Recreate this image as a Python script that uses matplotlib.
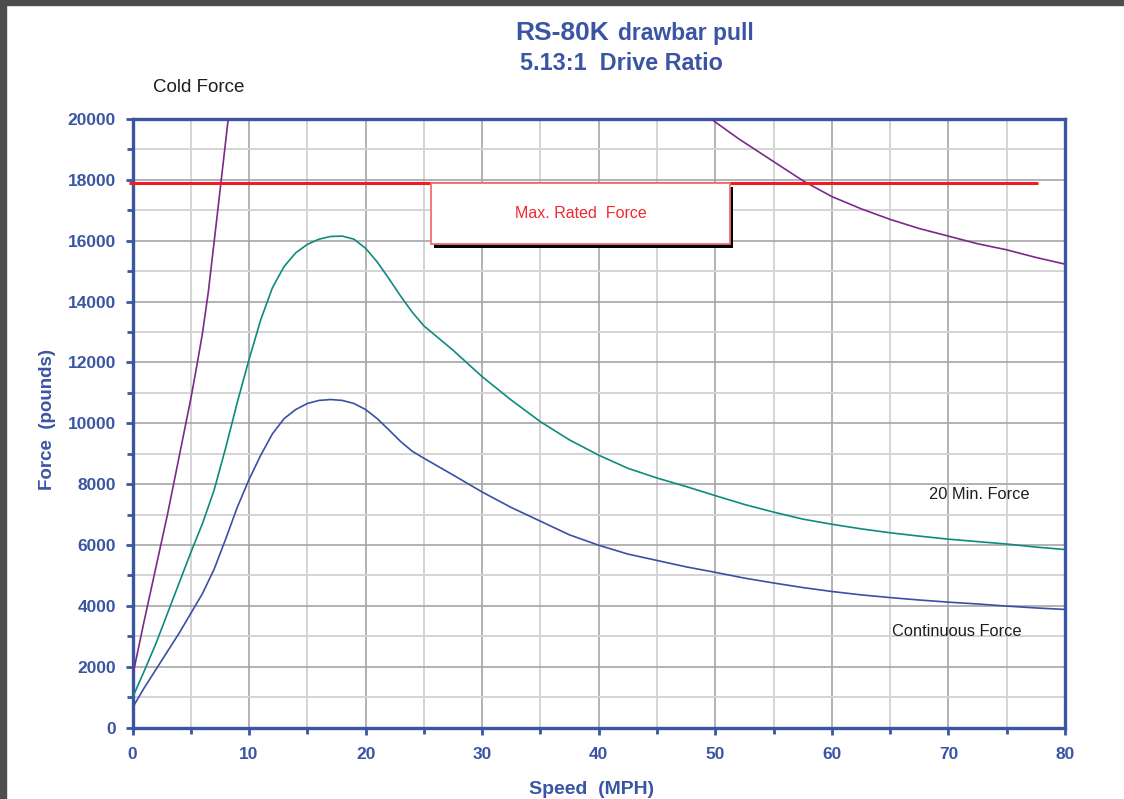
import numpy as np
import matplotlib
matplotlib.use("Agg")
import matplotlib.pyplot as plt
from matplotlib.patches import Rectangle

plt.rcParams['font.family'] = ['Liberation Sans', 'DejaVu Sans']

# cold force (purple) - two branches
cold_speed_lo = [0, 1, 2, 3, 4, 5, 5.5, 6, 6.5, 7, 7.6, 8.3]
cold_force_lo = [1680, 3500, 5250, 7000, 8900, 10800, 11850, 12950, 14300, 15950, 17950, 20300]
cold_speed_hi = [49.0, 50, 52, 55, 57.6, 60, 62.5, 65, 67.5, 70, 72.5, 75, 77.5, 80]
cold_force_hi = [20200, 19900, 19350, 18600, 17950, 17450, 17050, 16700, 16400,
                 16150, 15900, 15700, 15450, 15230]

speed = [0, 1, 2, 3, 4, 5, 6, 7, 8, 9, 10, 11, 12, 13, 14, 15, 16, 17, 18, 19,
         20, 21, 22, 23, 24, 25, 27.5, 30, 32.5, 35, 37.5, 40, 42.5, 45, 47.5,
         50, 52.5, 55, 57.5, 60, 62.5, 65, 67.5, 70, 72.5, 75, 77.5, 80]
force_20min = [980, 1850, 2750, 3750, 4750, 5750, 6700, 7800, 9200, 10700,
               12100, 13400, 14450, 15150, 15600, 15880, 16050, 16140, 16150, 16050,
               15750, 15300, 14750, 14180, 13650, 13200, 12400, 11530, 10760, 10050,
               9450, 8950, 8520, 8200, 7920, 7620, 7330, 7080, 6850, 6680,
               6530, 6400, 6290, 6190, 6110, 6030, 5930, 5850]
force_cont = [650, 1300, 1900, 2500, 3100, 3750, 4400, 5200, 6200, 7250,
              8150, 8950, 9650, 10150, 10450, 10650, 10750, 10780, 10750, 10650,
              10450, 10150, 9780, 9400, 9080, 8850, 8300, 7740, 7230, 6780,
              6330, 5990, 5700, 5490, 5280, 5100, 4910, 4750, 4600, 4470,
              4360, 4270, 4190, 4120, 4060, 3990, 3930, 3880]

max_rated = 17900
max_rated_end = 77.7

BLUE = '#3b55a5'
W, H = 1124, 799

fig = plt.figure(figsize=(W / 100, H / 100), dpi=100)
ax = fig.add_axes([132.5 / W, 1 - 727.5 / H, (1065 - 132.5) / W, (727.5 - 119) / H])

# dark frame strips (left and top)
fig.patches.append(Rectangle((0, 0), 6 / W, 1, transform=fig.transFigure,
                             color='#4d4d4d', zorder=0))
fig.patches.append(Rectangle((0, 1 - 5 / H), 1, 5 / H, transform=fig.transFigure,
                             color='#4d4d4d', zorder=0))

ax.set_xlim(0, 80)
ax.set_ylim(0, 20000)
ax.set_xticks(range(0, 81, 10))
ax.set_xticks(range(5, 80, 10), minor=True)
ax.set_yticks(range(0, 20001, 2000))
ax.set_yticks(range(1000, 20000, 2000), minor=True)

ax.grid(which='major', color='#a6a6a6', lw=1.2, zorder=0)
ax.grid(which='minor', color='#d4d4d4', lw=1.4, zorder=0)
ax.set_axisbelow(True)

for s in ax.spines.values():
    s.set_color(BLUE)
    s.set_linewidth(2.4)

ax.tick_params(which='both', direction='out', color=BLUE, width=2, top=False, right=False)
ax.tick_params(which='major', length=5)
ax.tick_params(which='minor', length=4)
ax.tick_params(axis='y', which='major', pad=7)
ax.tick_params(axis='x', which='major', pad=9)
for lab in ax.get_xticklabels() + ax.get_yticklabels():
    lab.set_color(BLUE)
    lab.set_fontweight('bold')
    lab.set_fontsize(12.5)

ax.plot(cold_speed_lo, cold_force_lo, color='#7a2a88', lw=1.2, zorder=3)
ax.plot(cold_speed_hi, cold_force_hi, color='#7a2a88', lw=1.2, zorder=3)
ax.plot(speed, force_20min, color='#0e8a80', lw=1.2, zorder=3)
ax.plot(speed, force_cont, color='#3a4fa5', lw=1.2, zorder=3)

ax.plot([-0.3, max_rated_end], [max_rated, max_rated], color='#ee1c25', lw=2.2,
        zorder=4, clip_on=False, solid_capstyle='butt')

# label box with shadow
bx0, bx1, by0, by1 = 25.6, 51.25, 15900, max_rated
ax.add_patch(Rectangle((bx0 + 0.3, by0 - 130), bx1 - bx0, by1 - by0,
                       facecolor='black', edgecolor='none', zorder=5))
ax.add_patch(Rectangle((bx0, by0), bx1 - bx0, by1 - by0,
                       facecolor='white', edgecolor='#f07070', lw=1.3, zorder=6))
ax.text((bx0 + bx1) / 2, (by0 + by1) / 2 - 20, 'Max. Rated  Force', color='#ee2a30',
        fontsize=11.5, ha='center', va='center', zorder=7)

fig.text(153 / W, 1 - 87 / H, 'Cold Force', fontsize=13.5, color='#1e1e1e',
         ha='left', va='center')
ax.text(929 / W, 1 - 494 / H, '20 Min. Force', fontsize=11.8, color='#1e1e1e',
        ha='left', va='center', transform=fig.transFigure)
ax.text(892 / W, 1 - 631 / H, 'Continuous Force', fontsize=11.8, color='#1e1e1e',
        ha='left', va='center', transform=fig.transFigure)

fig.text(515 / W, 1 - 40 / H, 'RS-80K', fontsize=19, fontweight='bold',
         color=BLUE, va='baseline')
fig.text(618 / W, 1 - 40 / H, 'drawbar pull', fontsize=16.5, fontweight='bold',
         color=BLUE, va='baseline')
fig.text(520 / W, 1 - 70 / H, '5.13:1  Drive Ratio', fontsize=16.8, fontweight='bold',
         color=BLUE, va='baseline')

fig.text(592 / W, 1 - 789 / H, 'Speed  (MPH)', fontsize=14, fontweight='bold',
         color=BLUE, ha='center', va='center')
fig.text(47 / W, 1 - 420 / H, 'Force  (pounds)', fontsize=13.5, fontweight='bold',
         color=BLUE, ha='center', va='center', rotation=90)

fig.savefig('out.png', dpi=100)
